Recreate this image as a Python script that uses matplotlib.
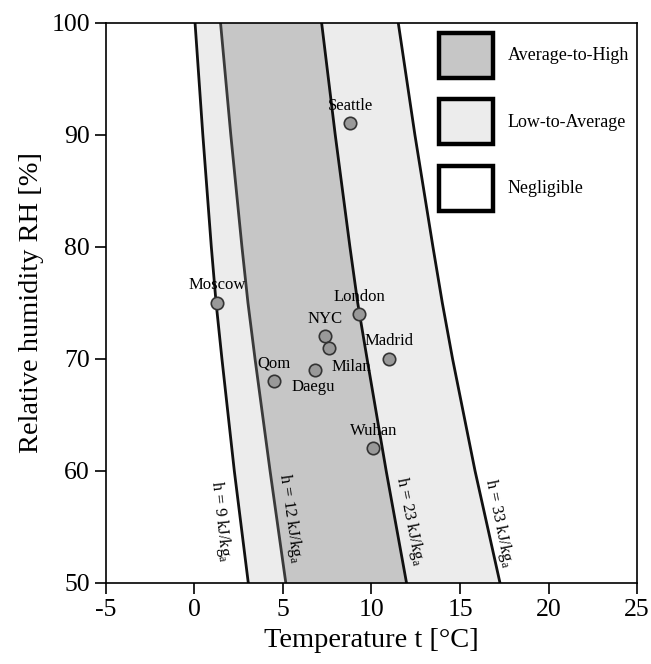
import numpy as np
import matplotlib
matplotlib.use("Agg")
import matplotlib.pyplot as plt
from matplotlib.patches import Patch

plt.rcParams['font.family'] = ['Liberation Serif', 'DejaVu Serif']
plt.rcParams['mathtext.fontset'] = 'stix'
plt.rcParams['axes.unicode_minus'] = False

# relative humidity levels where the enthalpy lines were read
rh = [100, 90, 80, 75, 70, 60, 50]
# temperature of each constant-enthalpy line at those RH levels
t_h9 = [0.03, 0.47, 0.95, 1.22, 1.55, 2.25, 3.04]
t_h12 = [1.47, 2.05, 2.68, 3.02, 3.42, 4.27, 5.16]
t_h23 = [7.18, 7.95, 8.78, 9.22, 9.75, 10.83, 11.98]
t_h33 = [11.51, 12.45, 13.47, 14.0, 14.58, 15.85, 17.26]

cities = ["Seattle", "Moscow", "London", "NYC", "Madrid", "Milan", "Daegu", "Qom", "Wuhan"]
city_t = [8.8, 1.3, 9.3, 7.4, 11.0, 7.6, 6.8, 4.5, 10.1]
city_rh = [91, 75, 74, 72, 70, 71, 69, 68, 62]

line_labels = ["h = 9 kJ/kg$_\\mathregular{a}$", "h = 12 kJ/kg$_\\mathregular{a}$",
               "h = 23 kJ/kg$_\\mathregular{a}$", "h = 33 kJ/kg$_\\mathregular{a}$"]

dark = '#c6c6c6'
light = '#ececec'

fig = plt.figure(figsize=(6.51, 6.64), dpi=100)
ax = fig.add_axes([0.1628, 0.122, 0.8157, 0.8441])

ax.fill_betweenx(rh, t_h9, t_h12, color=light, lw=0)
ax.fill_betweenx(rh, t_h12, t_h23, color=dark, lw=0)
ax.fill_betweenx(rh, t_h23, t_h33, color=light, lw=0)

ax.plot(t_h9, rh, color='#111111', lw=2)
ax.plot(t_h12, rh, color='#3a3a3a', lw=2)
ax.plot(t_h23, rh, color='#111111', lw=2)
ax.plot(t_h33, rh, color='#111111', lw=2)

# labels along the lines
lab_pos = [(1.45, 55.5, -83.5), (5.43, 55.8, -82.0), (12.18, 55.5, -78.5), (17.2, 55.3, -78.5)]
for txt, (x, y, r) in zip(line_labels, lab_pos):
    ax.text(x, y, txt, rotation=r, rotation_mode='anchor', ha='center', va='center',
            fontsize=12)

ax.scatter(city_t, city_rh, s=80, color='#999999', edgecolor='#333333', lw=1.2, zorder=3)

offsets = {"Milan": (2, -14, 'left'), "Daegu": (-1, -12.5, 'center')}
for name, x, y in zip(cities, city_t, city_rh):
    dx, dy, ha = offsets.get(name, (0, 12.5, 'center'))
    ax.annotate(name, (x, y), xytext=(dx, dy), textcoords='offset points',
                ha=ha, va='center', fontsize=12)

ax.set_xlim(-5, 25)
ax.set_ylim(50, 100)
ax.set_xticks([-5, 0, 5, 10, 15, 20, 25])
ax.set_yticks([50, 60, 70, 80, 90, 100])
ax.tick_params(labelsize=18.5, length=8, width=1.2, direction='out', top=False, right=False)
ax.set_xlabel("Temperature t [°C]", fontsize=20.5, labelpad=5)
ax.set_ylabel("Relative humidity RH [%]", fontsize=20.5, labelpad=5)
for s in ax.spines.values():
    s.set_linewidth(1.2)

handles = [Patch(facecolor=dark, edgecolor='black', lw=3.2),
           Patch(facecolor=light, edgecolor='black', lw=3.2),
           Patch(facecolor='white', edgecolor='black', lw=3.2)]
ax.legend(handles, ["Average-to-High", "Low-to-Average", "Negligible"],
          loc='upper left', bbox_to_anchor=(0.627, 0.982), frameon=False,
          fontsize=13, handlelength=3.0, handleheight=3.45, labelspacing=1.2,
          handletextpad=0.8, borderpad=0, borderaxespad=0)

fig.savefig("out.png", dpi=100)
